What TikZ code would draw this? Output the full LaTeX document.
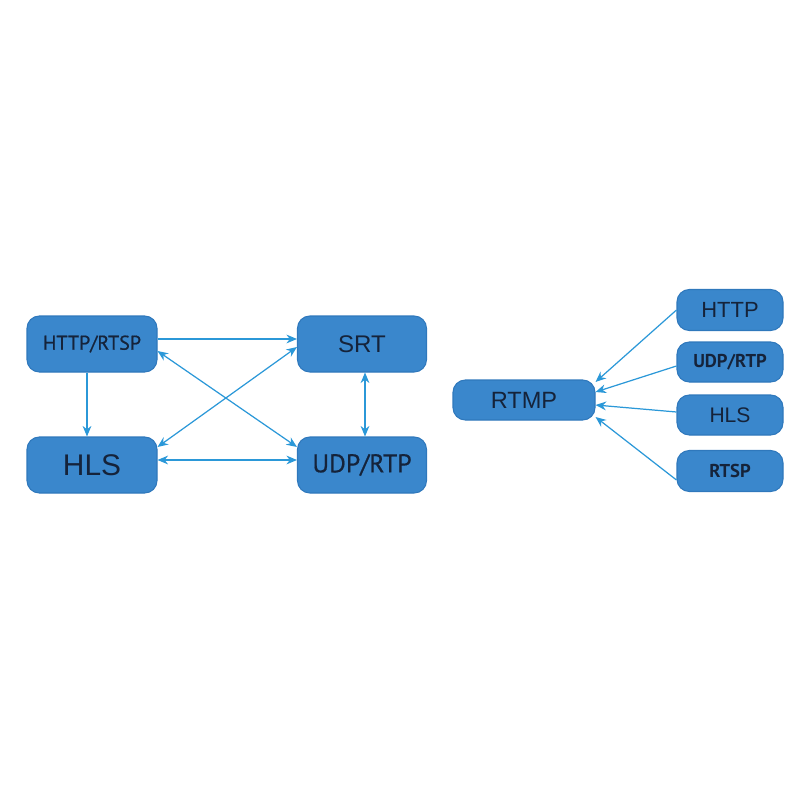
\documentclass[tikz,border=0pt]{standalone}
\usepackage{fontspec}
\setmainfont{Liberation Sans}
\newfontfamily\ptsans[FakeBold=0.6]{PT Sans}
\newfontfamily\ptsansb{PT Sans}
\usetikzlibrary{arrows.meta}
\definecolor{boxfill}{HTML}{3A87CC}
\definecolor{boxedge}{HTML}{2F78BC}
\definecolor{txt}{HTML}{15233A}
\definecolor{arr}{HTML}{2B98D8}
\tikzset{
  pbox/.style={draw=boxedge, line width=0.6pt, fill=boxfill, rounded corners=7pt, text=txt, inner sep=0pt, anchor=center},
  link/.style={draw=arr, line width=0.7pt, -{Stealth[length=6pt,width=5pt]}},
  blink/.style={draw=arr, line width=0.7pt, {Stealth[length=6pt,width=5pt]}-{Stealth[length=6pt,width=5pt]}},
}
\begin{document}
\begin{tikzpicture}[x=0.02cm,y=-0.02cm]
\useasboundingbox (0,0) rectangle (800,800);
% left group
\node[pbox, minimum width=130*0.02cm, minimum height=56*0.02cm, font=\ptsans\fontsize{11.4}{13}\selectfont] (hr) at (92,344) {HTTP/RTSP};
\node[pbox, minimum width=129*0.02cm, minimum height=56*0.02cm, font=\fontsize{13.7}{15}\selectfont] (srt) at (362,344) {SRT};
\node[pbox, minimum width=130*0.02cm, minimum height=56*0.02cm, font=\fontsize{17}{19}\selectfont] (hls) at (92,465) {HLS};
\node[pbox, minimum width=129*0.02cm, minimum height=56*0.02cm, font=\ptsans\fontsize{14.6}{17}\selectfont] (udp) at (362,465) {UDP/RTP};
% right group
\node[pbox, minimum width=142*0.02cm, minimum height=40*0.02cm, font=\fontsize{13.4}{15}\selectfont] (rtmp) at (524,400) {RTMP};
\node[pbox, minimum width=106*0.02cm, minimum height=41*0.02cm, font=\fontsize{12.5}{14}\selectfont] (http) at (730,310) {HTTP};
\node[pbox, minimum width=106*0.02cm, minimum height=40*0.02cm, font=\ptsansb\bfseries\fontsize{10.6}{12}\selectfont] (udp2) at (730,362) {UDP/RTP};
\node[pbox, minimum width=106*0.02cm, minimum height=40*0.02cm, font=\fontsize{12}{14}\selectfont] (hls2) at (730,415) {HLS};
\node[pbox, minimum width=106*0.02cm, minimum height=41*0.02cm, font=\ptsansb\bfseries\fontsize{10.6}{12}\selectfont] (rtsp) at (730,471) {RTSP};
% left connectors
\draw[link] (hr.east |- 0,339) -- (srt.west |- 0,339);
\draw[blink] (hr.east |- 0,351) -- (udp.west |- 0,447);
\draw[blink] (srt.west |- 0,347) -- (hls.east |- 0,447);
\draw[link] (hr.south -| 87,0) -- (hls.north -| 87,0);
\draw[blink] (srt.south -| 365,0) -- (udp.north -| 365,0);
\draw[blink] (hls.east |- 0,460) -- (udp.west |- 0,460);
% right connectors
\draw[link] (http.west) -- (rtmp.east |- 0,382);
\draw[link] (udp2.west |- 0,366) -- (rtmp.east |- 0,392);
\draw[link] (hls2.west |- 0,412) -- (rtmp.east |- 0,405);
\draw[link] (rtsp.west |- 0,480) -- (rtmp.east |- 0,417);
\end{tikzpicture}
\end{document}
